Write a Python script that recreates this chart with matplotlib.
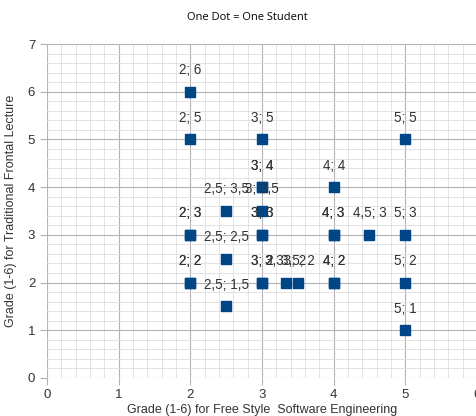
import matplotlib
matplotlib.use("Agg")
import matplotlib.pyplot as plt
from matplotlib.ticker import MultipleLocator

plt.rcParams['font.family'] = ['Liberation Sans', 'DejaVu Sans']

# one entry per student (duplicates overlap)
free_style = [2, 2, 3, 5, 3, 3, 4, 2.5, 3, 2, 2, 3, 3, 4, 4, 4.5, 5,
              2.5, 2, 2, 3, 3, 3.33, 3.5, 4, 4, 5, 2.5, 5]
frontal = [6, 5, 5, 5, 4, 4, 4, 3.5, 3.5, 3, 3, 3, 3, 3, 3, 3, 3,
           2.5, 2, 2, 2, 2, 2, 2, 2, 2, 2, 1.5, 1]


def fmt(v):
    s = ('%g' % v).replace('.', ',')
    return s


fig = plt.figure(figsize=(4.77, 4.16), dpi=100)
ax = fig.add_axes([47/477, 1-378/416, 1-47/477, (378-44)/416])

ax.set_xlim(0, 6)
ax.set_ylim(0, 7)
ax.xaxis.set_major_locator(MultipleLocator(1))
ax.yaxis.set_major_locator(MultipleLocator(1))
ax.xaxis.set_minor_locator(MultipleLocator(0.2))
ax.yaxis.set_minor_locator(MultipleLocator(0.2))
ax.grid(which='major', color='#b3b3b3', linewidth=0.8)
ax.grid(which='minor', color='#dedede', linewidth=0.6)
ax.set_axisbelow(True)
for s in ax.spines.values():
    s.set_visible(False)
ax.tick_params(which='major', length=5, color='#b3b3b3', labelsize=9.5,
               labelcolor='#333333')
ax.tick_params(which='minor', length=0)
ax.tick_params(axis='x', pad=3)

ax.scatter(free_style, frontal, marker='s', s=60, color='#004586', zorder=3,
           clip_on=False)
for x, y in zip(free_style, frontal):
    ax.annotate(fmt(x) + '; ' + fmt(y), (x, y), xytext=(0, 15.5),
                textcoords='offset points', ha='center', va='center',
                fontsize=9.75, color='#333333')

ax.set_xlabel('Grade (1-6) for Free Style  Software Engineering',
              fontsize=9, color='#333333', labelpad=2)
ax.set_ylabel('Grade (1-6) for Traditional Frontal Lecture',
              fontsize=9, color='#333333', labelpad=8)
fig.text(247/477, 1-18/416, 'One Dot = One Student', ha='center',
         va='center', fontsize=8, family=['Open Sans', 'DejaVu Sans'])

fig.savefig('out.png', dpi=100)
